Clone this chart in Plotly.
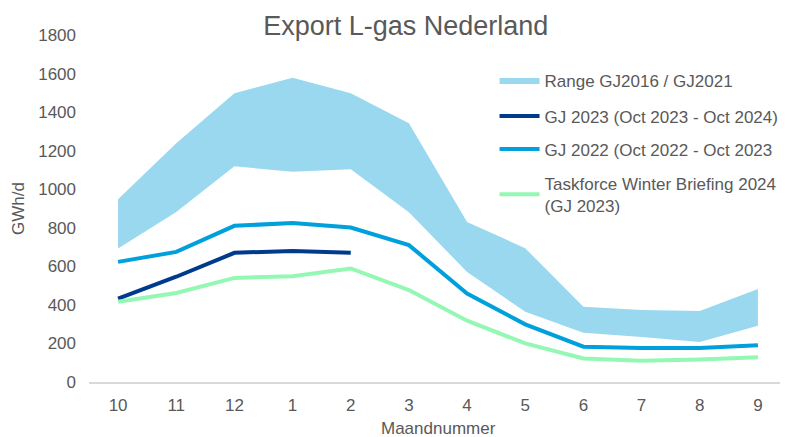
import plotly.graph_objects as go

# Month numbers (gas year Oct - Sep)
months = ["10", "11", "12", "1", "2", "3", "4", "5", "6", "7", "8", "9"]

range_upper = [948, 1238, 1498, 1578, 1498, 1342, 830, 694, 390, 373, 368, 482]
range_lower = [692, 882, 1119, 1090, 1103, 880, 571, 364, 255, 233, 207, 292]

gj2023 = [433, 546, 670, 680, 670]
gj2022 = [623, 675, 810, 825, 801, 710, 459, 299, 183, 176, 176, 190]
taskforce = [416, 462, 540, 549, 589, 477, 318, 200, 122, 110, 117, 128]

grey = "#595959"
fam = "Liberation Sans, Arial, sans-serif"
font = dict(family=fam, size=17, color=grey)

# the page body has an 8px margin, so the figure is made that much smaller
W, H = 780, 429

fig = go.Figure()

# Range band: lower edge (hidden) + upper edge filled down to it
fig.add_trace(go.Scatter(
    x=months, y=range_lower, mode="lines", line=dict(width=0, color="#9AD8EF"),
    showlegend=False, hoverinfo="skip",
))
fig.add_trace(go.Scatter(
    x=months, y=range_upper, mode="lines", fill="tonexty", fillcolor="#9AD8EF",
    line=dict(width=0, color="#9AD8EF"), name="Range GJ2016 / GJ2021", legend="legend",
))
fig.add_trace(go.Scatter(
    x=months[:len(gj2023)], y=gj2023, mode="lines", line=dict(width=4, color="#003A8C"),
    name="GJ 2023 (Oct 2023 - Oct 2024)", legend="legend2",
))
fig.add_trace(go.Scatter(
    x=months, y=gj2022, mode="lines", line=dict(width=4, color="#00A0DC"),
    name="GJ 2022 (Oct 2022 - Oct 2023", legend="legend3",
))
fig.add_trace(go.Scatter(
    x=months, y=taskforce, mode="lines", line=dict(width=4, color="#94F8B4"),
    name="Taskforce Winter Briefing 2024<br>(GJ 2023)", legend="legend4",
))

leg = dict(xanchor="left", yanchor="middle", bgcolor="rgba(0,0,0,0)",
           font=dict(family=fam, size=17, color=grey), itemwidth=40)
lx = 0.581

fig.update_layout(
    width=W, height=H,
    paper_bgcolor="white", plot_bgcolor="white",
    font=font,
    margin=dict(l=81, r=1, t=27, b=55),
    title=dict(text="Export L-gas Nederland", x=0.51, xanchor="center",
               y=1 - 18 / H, yanchor="middle", yref="container",
               font=dict(size=27, color=grey)),
    xaxis=dict(range=[-0.5, 11.5], showgrid=False, showline=True, linecolor="#D9D9D9",
               linewidth=1.5, ticks="", ticklabelstandoff=7, zeroline=False,
               automargin=False, tickfont=dict(size=17)),
    yaxis=dict(range=[0, 1800], dtick=200, showgrid=False, zeroline=False,
               showline=False, ticks="", ticklabelstandoff=12, automargin=False,
               tickfont=dict(size=17),
               title=dict(text="GWh/d", standoff=9, font=dict(size=17, color=grey))),
    legend=dict(leg, x=lx, y=0.869),
    legend2=dict(leg, x=lx, y=0.765),
    legend3=dict(leg, x=lx, y=0.67),
    legend4=dict(leg, x=lx, y=0.54),
)

# x-axis title sits lower than plotly's own placement allows without automargin
fig.add_annotation(text="Maandnummer", xref="paper", yref="paper", x=0.5, y=-0.135,
                   xanchor="center", yanchor="middle", showarrow=False,
                   font=dict(size=17, color=grey))

fig.write_html("out.html")
